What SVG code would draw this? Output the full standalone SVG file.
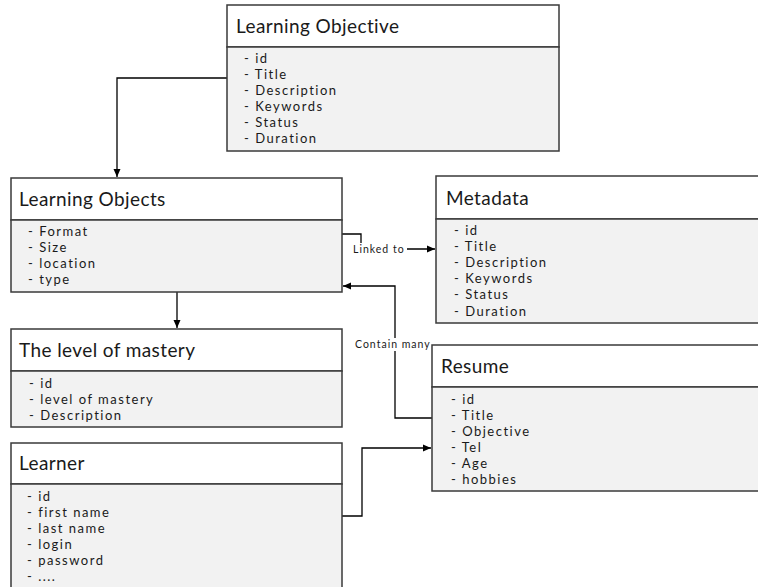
<svg xmlns="http://www.w3.org/2000/svg" width="758" height="587" viewBox="0 0 758 587">
<defs>
<style>
.hd{fill:#ffffff;stroke:#3a3a3a;stroke-width:1.5}
.bd{fill:#f2f2f2;stroke:#3a3a3a;stroke-width:1.5}
.t{font-family:Lato,"Open Sans",sans-serif;font-size:19px;letter-spacing:0.4px;fill:#1a1a1a}
.a{font-family:Lato,"Open Sans",sans-serif;font-size:13px;letter-spacing:1.5px;fill:#1a1a1a}
.c{fill:none;stroke:#000;stroke-width:1.3}
.lb{font-family:Lato,"Open Sans",sans-serif;font-size:10.5px;letter-spacing:1px;fill:#1a1a1a}
</style>
<marker id="arr" markerWidth="9" markerHeight="8" refX="8" refY="4" orient="auto" markerUnits="userSpaceOnUse">
<path d="M0,0.5 L8,4 L0,7.5 z" fill="#000"/>
</marker>
</defs>
<rect width="758" height="587" fill="#ffffff"/>

<g id="connectors">
<path class="c" d="M227,78 H117 V177" marker-end="url(#arr)"/>
<path class="c" d="M177,292 V328" marker-end="url(#arr)"/>
<path class="c" d="M342,234 H361 V249 H435" marker-end="url(#arr)"/>
<path class="c" d="M432,418 H395 V286 H343" marker-end="url(#arr)"/>
<path class="c" d="M342,516 H362 V448 H431" marker-end="url(#arr)"/>
<rect x="352" y="243" width="55" height="13" fill="#ffffff"/>
<text class="lb" x="353" y="253">Linked to</text>
<rect x="354" y="338" width="77" height="13" fill="#ffffff"/>
<text class="lb" x="355" y="348">Contain many</text>
</g>

<g id="learning-objective">
<rect class="hd" x="227" y="5" width="332" height="42"/>
<rect class="bd" x="227" y="47" width="332" height="104"/>
<text class="t" x="236" y="33">Learning Objective</text>
<text class="a" x="244" y="63">- id</text>
<text class="a" x="244" y="79">- Title</text>
<text class="a" x="244" y="95">- Description</text>
<text class="a" x="244" y="111">- Keywords</text>
<text class="a" x="244" y="127">- Status</text>
<text class="a" x="244" y="143">- Duration</text>
</g>

<g id="learning-objects">
<rect class="hd" x="11" y="178" width="331" height="42"/>
<rect class="bd" x="11" y="220" width="331" height="72"/>
<text class="t" x="19" y="206">Learning Objects</text>
<text class="a" x="28" y="236">- Format</text>
<text class="a" x="28" y="252">- Size</text>
<text class="a" x="28" y="268">- location</text>
<text class="a" x="28" y="284">- type</text>
</g>

<g id="metadata">
<rect class="hd" x="436" y="176" width="340" height="43"/>
<rect class="bd" x="436" y="219" width="340" height="104"/>
<text class="t" x="446" y="205">Metadata</text>
<text class="a" x="454" y="235">- id</text>
<text class="a" x="454" y="251">- Title</text>
<text class="a" x="454" y="267">- Description</text>
<text class="a" x="454" y="283">- Keywords</text>
<text class="a" x="454" y="299">- Status</text>
<text class="a" x="454" y="316">- Duration</text>
</g>

<g id="level-of-mastery">
<rect class="hd" x="11" y="329" width="331" height="42"/>
<rect class="bd" x="11" y="371" width="331" height="56"/>
<text class="t" x="19" y="357">The level of mastery</text>
<text class="a" x="29" y="388">- id</text>
<text class="a" x="29" y="404">- level of mastery</text>
<text class="a" x="29" y="420">- Description</text>
</g>

<g id="resume">
<rect class="hd" x="432" y="345" width="340" height="42"/>
<rect class="bd" x="432" y="387" width="340" height="104"/>
<text class="t" x="441" y="373">Resume</text>
<text class="a" x="451" y="404">- id</text>
<text class="a" x="451" y="420">- Title</text>
<text class="a" x="451" y="436">- Objective</text>
<text class="a" x="451" y="452">- Tel</text>
<text class="a" x="451" y="468">- Age</text>
<text class="a" x="451" y="484">- hobbies</text>
</g>

<g id="learner">
<rect class="hd" x="11" y="443" width="331" height="41"/>
<rect class="bd" x="11" y="484" width="331" height="120"/>
<text class="t" x="19" y="470">Learner</text>
<text class="a" x="27" y="501">- id</text>
<text class="a" x="27" y="517">- first name</text>
<text class="a" x="27" y="533">- last name</text>
<text class="a" x="27" y="549">- login</text>
<text class="a" x="27" y="565">- password</text>
<text class="a" x="27" y="581">- ....</text>
</g>
</svg>
